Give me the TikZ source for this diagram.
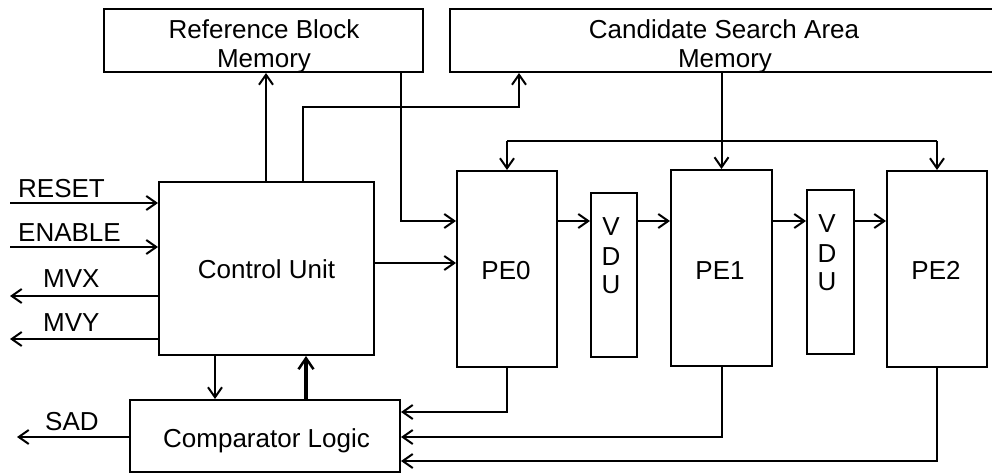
\documentclass[tikz,border=0pt]{standalone}
\usepackage{fontspec}
\setmainfont{Liberation Sans}
\usetikzlibrary{arrows.meta}
\begin{document}
\begin{tikzpicture}[x=1pt,y=-1pt,
  box/.style={draw, line width=2pt, rectangle, inner sep=0pt},
  txt/.style={anchor=base, inner sep=0pt, font=\fontsize{26pt}{29pt}\selectfont},
  txtw/.style={txt, anchor=base west},
  conn/.style={line width=2pt, -{Straight Barb[length=10pt,width=14pt,line width=2pt]}},
  plain/.style={line width=2pt},
  thickconn/.style={line width=4pt, -{Straight Barb[length=11pt,width=15pt,line width=2.5pt]}}]
\useasboundingbox[fill=white] (0,0) rectangle (992,473);

% boxes
\node[box, minimum width=319pt, minimum height=63pt] (ref) at (263.5,40.5) {};
\node[box, minimum width=548pt, minimum height=63pt] (cand) at (724,40.5) {};
\node[box, minimum width=215pt, minimum height=173pt] (ctrl) at (266.5,268.5) {};
\node[box, minimum width=270pt, minimum height=72pt] (comp) at (265,436) {};
\node[box, minimum width=100pt, minimum height=196pt] (pe0) at (507,269) {};
\node[box, minimum width=46pt, minimum height=164pt] (vdu1) at (614,275) {};
\node[box, minimum width=101pt, minimum height=196pt] (pe1) at (721.5,268) {};
\node[box, minimum width=47pt, minimum height=164pt] (vdu2) at (830.5,272) {};
\node[box, minimum width=100pt, minimum height=196pt] (pe2) at (937,269) {};

% texts
\node[txt] (refA) at (264,39) {Reference Block};
\node[txt] (refB) at (264,68) {Memory};
\node[txt] (candA) at (724,39) {Candidate Search Area};
\node[txt] (candB) at (725,68) {Memory};
\node[txt] (ctrlT) at (266.5,278) {Control Unit};
\node[txt] (compT) at (266.5,447) {Comparator Logic};
\node[txt] (pe0T) at (506,279) {PE0};
\node[txt] (pe1T) at (720,279) {PE1};
\node[txt] (pe2T) at (936,279) {PE2};
\node[txt] (v1a) at (611,235) {V};
\node[txt] (v1b) at (611,265) {D};
\node[txt] (v1c) at (611,293) {U};
\node[txt] (v2a) at (827,232) {V};
\node[txt] (v2b) at (827,262) {D};
\node[txt] (v2c) at (827,290) {U};
\node[txtw] (rstT) at (18,197) {RESET};
\node[txtw] (enT) at (18,241) {ENABLE};
\node[txtw] (mvxT) at (43,287) {MVX};
\node[txtw] (mvyT) at (43,331) {MVY};
\node[txtw] (sadT) at (45,430) {SAD};

% free ends and routing points
\coordinate (rstS) at (10,203);
\coordinate (enS) at (10,247);
\coordinate (mvxE) at (10,296);
\coordinate (mvyE) at (10,339);
\coordinate (sadE) at (17,437);
\coordinate (xdown) at (215,0);
\coordinate (xup) at (306,0);
\coordinate (xref) at (266,0);
\coordinate (xcand) at (303,0);
\coordinate (candTurn) at (519,107);
\coordinate (xrefdown) at (401,0);
\coordinate (yrow) at (0,221);
\coordinate (yctl) at (0,263);
\coordinate (ybus) at (0,141);
\coordinate (yc1) at (0,412);
\coordinate (yc2) at (0,437);
\coordinate (yc3) at (0,461);

% left I/O
\draw[conn] (rstS) -- (rstS -| ctrl.west);
\draw[conn] (enS) -- (enS -| ctrl.west);
\draw[conn] (mvxE -| ctrl.west) -- (mvxE);
\draw[conn] (mvyE -| ctrl.west) -- (mvyE);
\draw[conn] (sadE -| comp.west) -- (sadE);

% control <-> comparator
\draw[conn] (ctrl.south -| xdown) -- (comp.north -| xdown);
\draw[thickconn] (comp.north -| xup) -- (ctrl.south -| xup);

% control -> memories
\draw[conn] (ctrl.north -| xref) -- (ref.south -| xref);
\draw[conn] (ctrl.north -| xcand) |- (candTurn) -- (cand.south -| candTurn);

% memories -> PEs
\draw[conn] (ref.south -| xrefdown) |- (pe0.west |- yrow);
\draw[conn] (ctrl.east |- yctl) -- (pe0.west |- yctl);
\draw[conn] (cand.south -| pe1.north) -- (pe1.north);
\draw[plain] (pe0.north |- ybus) -- (pe2.north |- ybus);
\draw[conn] (pe0.north |- ybus) -- (pe0.north);
\draw[conn] (pe2.north |- ybus) -- (pe2.north);

% PE chain
\draw[conn] (pe0.east |- yrow) -- (vdu1.west |- yrow);
\draw[conn] (vdu1.east |- yrow) -- (pe1.west |- yrow);
\draw[conn] (pe1.east |- yrow) -- (vdu2.west |- yrow);
\draw[conn] (vdu2.east |- yrow) -- (pe2.west |- yrow);

% PEs -> comparator
\draw[conn] (pe0.south) |- (comp.east |- yc1);
\draw[conn] (pe1.south) |- (comp.east |- yc2);
\draw[conn] (pe2.south) |- (comp.east |- yc3);
\end{tikzpicture}
\end{document}
